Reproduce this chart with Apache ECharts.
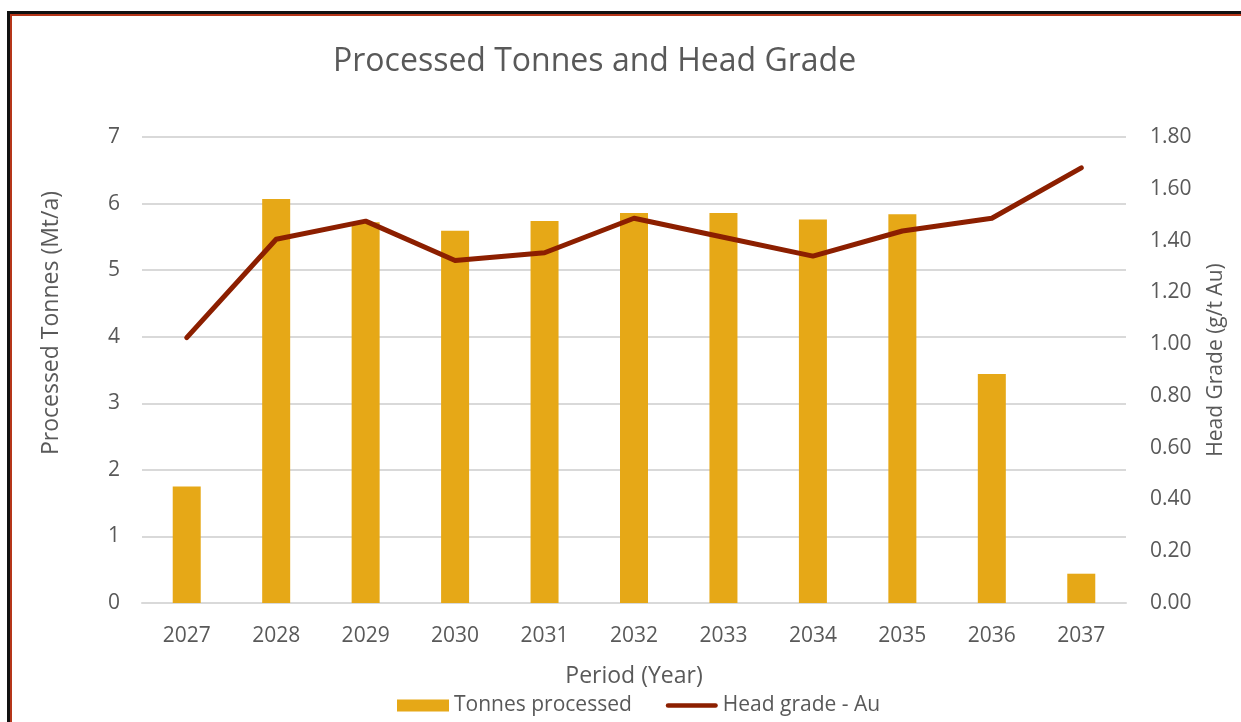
<!DOCTYPE html>
<html>
<head>
<meta charset="utf-8">
<script src="https://cdn.jsdelivr.net/npm/echarts@6/dist/echarts.min.js"></script>
<style>
    html, body { margin: 0; padding: 0; background: #fff; }
    #chart { position: absolute; left: 0; top: 0; width: 1241px; height: 722px; }
    #frameOuter { position: absolute; left: 7px; top: 11px; width: 1260px; height: 740px;
        border-left: 3px solid #111; border-top: 3px solid #111; pointer-events: none; }
    #frameInner { position: absolute; left: 0; top: 0; width: 100%; height: 100%;
        border-left: 2px solid #b5361a; border-top: 2px solid #b5361a; }
</style>
</head>
<body>
<div id="chart"></div>
<div id="frameOuter"><div id="frameInner"></div></div>
<script>
// 处理吨数与品位
var years = ['2027', '2028', '2029', '2030', '2031', '2032', '2033', '2034', '2035', '2036', '2037'];
var tonnes = [1.75, 6.07, 5.72, 5.59, 5.74, 5.86, 5.86, 5.76, 5.84, 3.44, 0.44];
var headGrade = [1.025, 1.405, 1.475, 1.323, 1.353, 1.486, 1.413, 1.340, 1.437, 1.486, 1.681];
var leftTicks = [0, 7, 1];
var rightTicks = [0, 1.8, 0.2];

var font = 'Open Sans';
var textColor = '#595959';

var myChart = echarts.init(document.getElementById('chart'));
var option = {
    backgroundColor: '#fff',
    animation: false,
    title: {
        text: 'Processed Tonnes and Head Grade',
        left: 328,
        top: 41,
        textStyle: { fontFamily: font, fontSize: 32, fontWeight: 'normal', color: textColor }
    },
    legend: {
        bottom: 1,
        left: 392,
        itemGap: 34,
        itemWidth: 52,
        itemHeight: 12,
        textStyle: { fontFamily: font, fontSize: 21, color: textColor },
        data: [
            { name: 'Tonnes processed', icon: 'rect' },
            { name: 'Head grade - Au', icon: 'path://M2,0 L54,0 A2,2 0 0 1 54,5 L2,5 A2,2 0 0 1 2,0 Z' }
        ]
    },
    grid: { left: 142, right: 115, top: 137, bottom: 119 },
    xAxis: {
        type: 'category',
        data: years,
        name: 'Period (Year)',
        nameLocation: 'middle',
        nameGap: 62,
        nameTextStyle: { fontFamily: font, fontSize: 23, color: textColor },
        axisLine: { lineStyle: { color: '#d9d9d9', width: 2 } },
        axisTick: { show: false },
        axisLabel: { fontFamily: font, fontSize: 21, color: textColor, margin: 23 }
    },
    yAxis: [
        {
            type: 'value',
            min: leftTicks[0],
            max: leftTicks[1],
            interval: leftTicks[2],
            name: 'Processed Tonnes (Mt/a)',
            nameLocation: 'middle',
            nameGap: 79,
            nameTextStyle: { fontFamily: font, fontSize: 23, color: textColor, padding: [0, 0, 0, 94] },
            axisLabel: { fontFamily: font, fontSize: 21, color: textColor, margin: 22 },
            splitLine: { lineStyle: { color: '#d9d9d9', width: 2 } }
        },
        {
            type: 'value',
            min: rightTicks[0],
            max: rightTicks[1],
            interval: rightTicks[2],
            name: 'Head Grade (g/t Au)',
            nameLocation: 'middle',
            nameGap: 80,
            nameTextStyle: { fontFamily: font, fontSize: 21, color: textColor, padding: [0, 0, 0, 20] },
            axisLabel: {
                fontFamily: font, fontSize: 21, color: textColor, margin: 24,
                formatter: function (v) { return v.toFixed(2); }
            },
            splitLine: { show: false }
        }
    ],
    series: [
        {
            name: 'Tonnes processed',
            type: 'bar',
            data: tonnes,
            barWidth: 28,
            itemStyle: { color: '#e6a817' }
        },
        {
            name: 'Head grade - Au',
            type: 'line',
            yAxisIndex: 1,
            data: headGrade,
            symbol: 'none',
            lineStyle: { color: '#8c1f00', width: 5, cap: 'round', join: 'round' },
            itemStyle: { color: '#8c1f00' }
        }
    ]
};
myChart.setOption(option);
</script>
</body>
</html>
